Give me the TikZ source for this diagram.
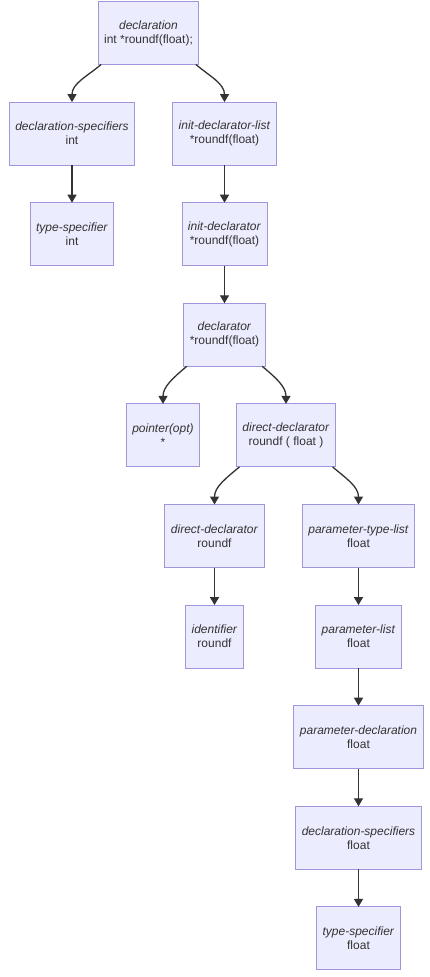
\documentclass[tikz,border=0pt]{standalone}
\usepackage{fontspec}
\setmainfont{Liberation Sans}
\usetikzlibrary{arrows.meta, positioning}

\definecolor{boxfill}{HTML}{ECECFF}
\definecolor{boxline}{HTML}{A096DC}
\definecolor{ink}{HTML}{333333}

\begin{document}
\begin{tikzpicture}[
            x=1pt, y=1pt,
            node distance=37.6pt,
            sym/.style={rectangle, draw=boxline, fill=boxfill, line width=0.9pt,
            minimum height=63pt, inner xsep=6pt, outer sep=0pt, text=ink,
            font=\fontsize{12}{14}\selectfont, align=center},
            link/.style={draw=ink, line width=1.3pt, -{Triangle[length=8pt,width=9pt]}}
        ]
\useasboundingbox (0,0) rectangle (430,-977);

% ----- Knoten -----
            \node[sym] (decl) at (148.5,-33) {\textit{declaration}\\int *roundf(float);};
            \node[sym, below=of decl, xshift=-76.5pt] (dspec) {\textit{declaration-specifiers}\\int};
            \node[sym, below=of decl, xshift=76pt] (idlist) {\textit{init-declarator-list}\\*roundf(float)};
            \node[sym, below=of dspec] (tspec) {\textit{type-specifier}\\int};
            \node[sym, below=of idlist] (idecl) {\textit{init-declarator}\\*roundf(float)};
            \node[sym, below=of idecl] (dcltr) {\textit{declarator}\\*roundf(float)};
            \node[sym, below=of dcltr, xshift=-61.5pt] (ptr) {\textit{pointer(opt)}\\*};
            \node[sym, below=of dcltr, xshift=61.5pt] (ddecl) {\textit{direct-declarator}\\roundf ( float )};
            \node[sym, below=of ddecl, xshift=-71.5pt] (ddeclb) {\textit{direct-declarator}\\roundf};
            \node[sym, below=of ddecl, xshift=72.5pt] (ptlist) {\textit{parameter-type-list}\\float};
            \node[sym, below=of ddeclb] (ident) {\textit{identifier}\\roundf};
            \node[sym, below=of ptlist] (plist) {\textit{parameter-list}\\float};
            \node[sym, below=of plist] (pdecl) {\textit{parameter-declaration}\\float};
            \node[sym, below=of pdecl] (dspecb) {\textit{declaration-specifiers}\\float};
            \node[sym, below=of dspecb] (tspecb) {\textit{type-specifier}\\float};

% ----- Kanten (verzweigt) -----
            \draw[link] ([xshift=3pt]decl.south west) to[out=-140, in=90] (dspec.north);
            \draw[link] ([xshift=-3pt]decl.south east) to[out=-40, in=90] (idlist.north);
            \draw[link] ([xshift=3pt]dcltr.south west) to[out=-140, in=90] (ptr.north);
            \draw[link] ([xshift=-3pt]dcltr.south east) to[out=-40, in=90] (ddecl.north);
            \draw[link] ([xshift=3pt]ddecl.south west) to[out=-140, in=90] (ddeclb.north);
            \draw[link] ([xshift=-3pt]ddecl.south east) to[out=-40, in=90] (ptlist.north);

% ----- Kanten (gerade) -----
            \draw[link] (dspec) -- (tspec);
            \draw[link] (idlist) -- (idecl);
            \draw[link] (idecl) -- (dcltr);
            \draw[link] (ddeclb) -- (ident);
            \draw[link] (ptlist) -- (plist);
            \draw[link] (plist) -- (pdecl);
            \draw[link] (pdecl) -- (dspecb);
            \draw[link] (dspecb) -- (tspecb);

        \end{tikzpicture}
\end{document}
